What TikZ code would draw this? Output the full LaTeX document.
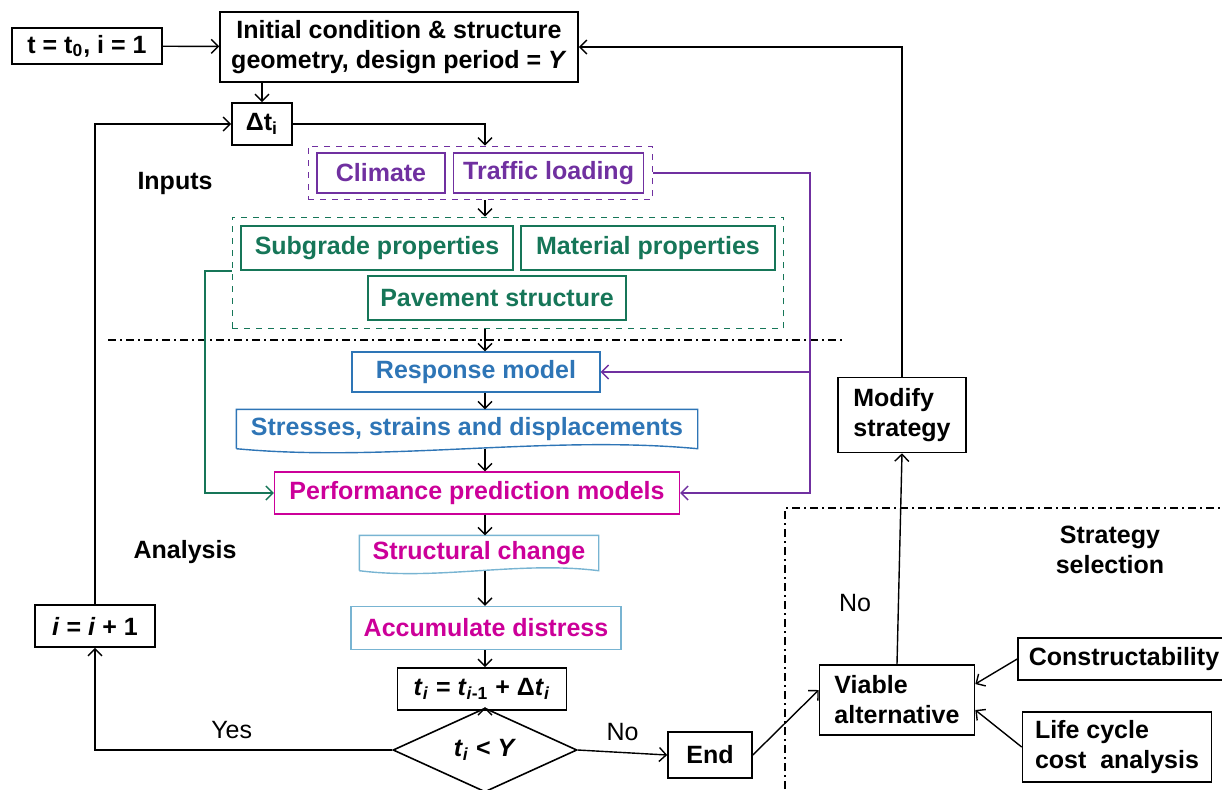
\documentclass[tikz,border=0pt]{standalone}
\usepackage{fontspec}
\setmainfont{Liberation Sans}
\usetikzlibrary{
        arrows.meta,
        fit,
        positioning,
        shapes.geometric
    }
\definecolor{inpurple}{RGB}{112,48,160}
\definecolor{ingreen}{RGB}{22,118,88}
\definecolor{resblue}{RGB}{46,117,182}
\definecolor{paleblue}{RGB}{120,180,210}
\definecolor{perfpink}{RGB}{204,0,153}
\tikzset{>={Straight Barb[length=3.5pt,width=7pt]}}
\tikzset{
    txt/.style={font=\bfseries\fontsize{12.5}{15}\selectfont},
    lbl/.style={font=\fontsize{12.5}{15}\selectfont},
    blkbox/.style={txt,draw,line width=0.8pt,inner sep=2pt,align=center},
    purbox/.style={blkbox,draw=inpurple,text=inpurple,minimum height=20pt},
    grnbox/.style={blkbox,draw=ingreen,text=ingreen,minimum height=22pt},
    colbox/.style={blkbox,line width=0.7pt},
    docnode/.style={txt,inner sep=2pt},
    divider/.style={line width=0.6pt,dash pattern=on 4pt off 2pt on 1pt off 2pt}
}

\begin{document}
\begin{tikzpicture}[x=0.5pt,y=-0.5pt,line width=0.7pt]
        \useasboundingbox (0,0) rectangle (1222,789);
        \coordinate (spine) at (485,0);
        \coordinate (grail) at (205,0);
        \coordinate (prail) at (810,0);
        % start
        \node[blkbox,minimum width=75pt,minimum height=18pt] (start) at (87,46) {t = t\textsubscript{0}, i = 1};
        \node[blkbox,minimum width=179pt,minimum height=35pt] (init) at (399,47) {Initial condition \& structure\\geometry, design period = \textit{Y}};
        \node[blkbox,minimum width=30pt,minimum height=21pt] (dt) at (262,124) {Δt\textsubscript{i}};
        % inputs
        \node[purbox,minimum width=64pt] (climate) at (381,173) {Climate};
        \node[purbox,minimum width=95pt,right=3.5pt of climate] (traffic) {Traffic loading};
        \node[draw=inpurple,dashed,line width=0.6pt,fit=(climate)(traffic),inner xsep=4pt,inner ysep=3pt] (inputs) {};
        \node[grnbox,minimum width=136pt] (subgrade) at (377,248) {Subgrade properties};
        \node[grnbox,minimum width=127pt] (material) at (648,248) {Material properties};
        \node[grnbox,minimum width=129pt] (pavement) at (497,298) {Pavement structure};
        \node[draw=ingreen,dashed,line width=0.6pt,fit=(subgrade)(material)(pavement),inner sep=4pt] (props) {};
        % analysis
        \node[colbox,draw=resblue,text=resblue,minimum width=124pt,minimum height=20pt] (response) at (476,372) {Response model};
        \node[docnode,text=resblue,minimum width=230pt,minimum height=19pt] (stresses) at (467,429) {Stresses, strains and displacements};
        \node[colbox,draw=perfpink,text=perfpink,minimum width=202.5pt,minimum height=21pt] (perf) at (477,493) {Performance prediction models};
        \node[docnode,text=perfpink,minimum width=119pt,minimum height=17pt] (structural) at (479,553) {Structural change};
        \node[colbox,draw=paleblue,text=perfpink,minimum width=135pt,minimum height=21.5pt] (accum) at (486,628) {Accumulate distress};
        \node[blkbox,minimum width=84.5pt,minimum height=21pt] (tnext) at (482,689) {\textit{t}\textsubscript{\textit{i}} = \textit{t}\textsubscript{\textit{i}-1} + Δ\textit{t}\textsubscript{\textit{i}}};
        \node[txt,draw,diamond,line width=0.8pt,inner sep=0pt,minimum width=92pt,minimum height=38pt] (check) at (485,750) {\textit{t}\textsubscript{\textit{i}} < \textit{Y}};
        \node[blkbox,minimum width=60pt,minimum height=21pt] (iinc) at (95,626) {\textit{i} = \textit{i} + 1};
        \node[blkbox,minimum width=42pt,minimum height=23pt] (finish) at (710,755) {End};
        % strategy
        \node[blkbox,align=left,minimum width=77.5pt,minimum height=35pt] (viable) at (897,700) {Viable\\alternative};
        \node[blkbox,minimum width=106pt,minimum height=21pt] (constr) at (1124,659) {Constructability};
        \node[blkbox,align=left,minimum width=94.5pt,minimum height=35pt] (lcca) at (1117,747) {Life cycle\\cost\ \ analysis};
        \node[blkbox,align=left,minimum width=64pt,minimum height=37.5pt] (modify) at (902,415) {Modify\\strategy};
        \node[txt] (lbinputs) at (175,183) {Inputs};
        \node[txt] (lbanalysis) at (185,552) {Analysis};
        \node[txt,align=center] (lbstrategy) at (1110,550) {Strategy\\selection};
        \node[lbl] (lbno) at (855,603) {No};

        % document shapes
        \draw[resblue] (stresses.south west) -- (stresses.north west) -- (stresses.north east) -- (stresses.south east)
            .. controls +(-150,-14) and +(150,14) .. (stresses.south west);
        \draw[paleblue] (structural.south west) -- (structural.north west) -- (structural.north east) -- (structural.south east)
            .. controls +(-80,-10) and +(80,10) .. (structural.south west);

        % dividers
        \draw[divider] (108,340) -- (845,340);
        \draw[divider] (785,789) -- (785,508) -- (1222,508);

        % flow
        \draw[->] (start) -- (init);
        \draw[->] (modify.north) |- (init.east);
        \draw[->] (dt.north |- init.south) -- (dt.north);
        \draw[->] (dt) -| (spine |- inputs.north);
        \draw[->] (spine |- inputs.south) -- (spine |- props.north);
        \draw[->] (spine |- props.south) -- (spine |- response.north);
        \draw[->] (spine |- response.south) -- (spine |- stresses.north);
        \draw[->] (spine |- stresses.south) -- (spine |- perf.north);
        \draw[->] (spine |- perf.south) -- (spine |- structural.north);
        \draw[->] (spine |- structural.south) -- (spine |- accum.north);
        \draw[->] (spine |- accum.south) -- (spine |- tnext.north);
        \draw[->] (spine |- tnext.south) -- (spine |- check.north);
        \draw[->,inpurple] (inputs.east |- traffic.east) -| (prail |- response.east) -- (response.east);
        \draw[->,inpurple] (prail |- response.east) |- (perf.east);
        \draw[->,ingreen] (props.west |- subgrade.south) -| (grail |- perf.west) -- (perf.west);
        \draw[->] (check.west) -| (iinc.south) node[lbl,pos=0.27,above=2pt] {Yes};
        \draw[->] (iinc.north) |- (dt.west);
        \draw[->] (check.east) -- (finish.west) node[lbl,midway,above=2pt] {No};
        \draw[->] (finish.east) -- ([yshift=5pt]viable.west);
        \draw[->] (constr.west) -- ([yshift=8pt]viable.east);
        \draw[->] (lcca.west) -- ([yshift=-5pt]viable.east);
        \draw[->] (viable.north) -- (modify.south);
    \end{tikzpicture}
\end{document}
